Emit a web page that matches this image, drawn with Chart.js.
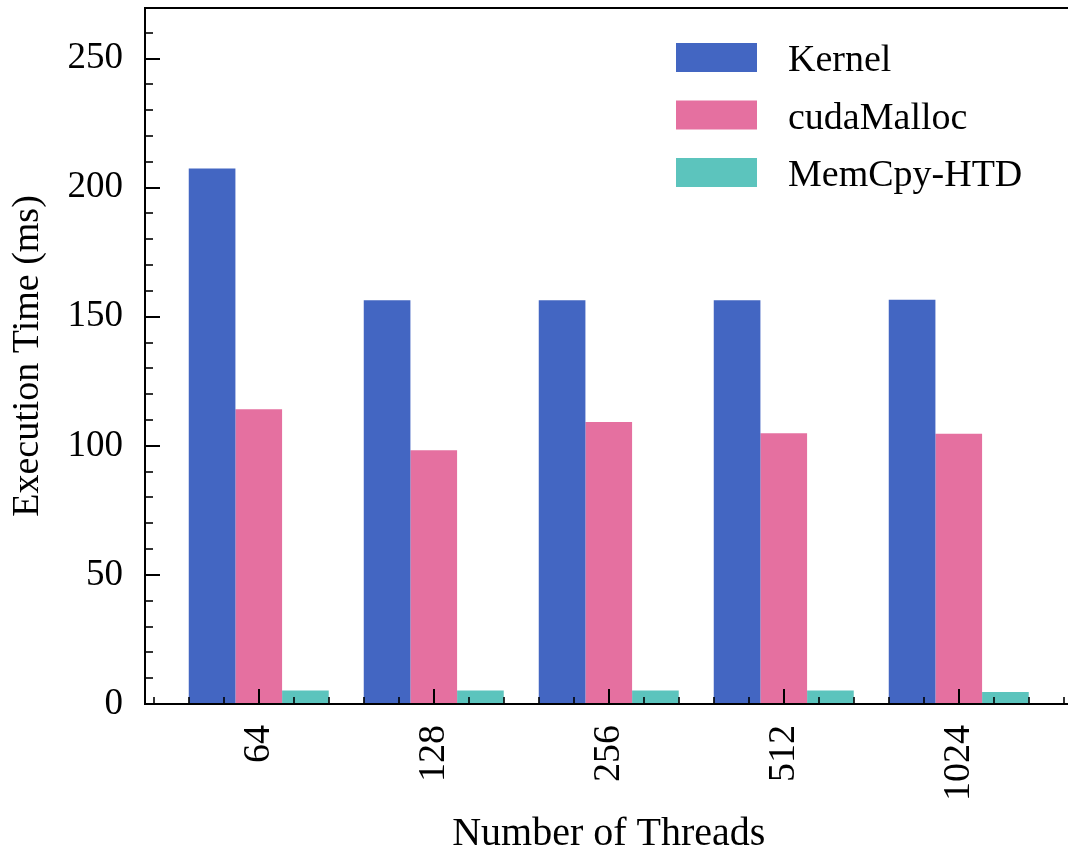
<!DOCTYPE html>
<html>
<head>
<meta charset="utf-8">
<script src="https://cdn.jsdelivr.net/npm/chart.js@4.4.0/dist/chart.umd.min.js"></script>
<style>
  html, body { margin: 0; padding: 0; background: #fff; overflow: hidden; }
</style>
</head>
<body>
<canvas id="chart" width="1074" height="854"></canvas>
<script>
// values
const threads = ['64', '128', '256', '512', '1024'];
const kernel = [207.4, 156.4, 156.4, 156.4, 156.6];
const cudaMalloc = [114.2, 98.3, 109.2, 104.9, 104.7];
const memcpyHtd = [5.2, 5.2, 5.2, 5.2, 4.6];
const yTicks = [0, 50, 100, 150, 200, 250];
const yMax = 269.6;
const xMin = -0.65;
const xMax = 4.65;

const FONT = "'Liberation Serif', 'DejaVu Serif', serif";
const toPoints = arr => arr.map((v, i) => ({ x: i, y: v }));
const noPadding = s => { s.paddingTop = 0; s.paddingBottom = 0; s.paddingLeft = 0; s.paddingRight = 0; };

// matplotlib-style frame with inward ticks
const frameTicks = {
  id: 'frameTicks',
  afterDatasetsDraw(chart) {
    const { ctx, chartArea: a, scales: { x, y } } = chart;
    ctx.save();
    ctx.strokeStyle = '#000';
    for (let v = 0; v <= yMax; v += 10) {
      const major = v % 50 === 0;
      const py = Math.round(y.getPixelForValue(v));
      ctx.lineWidth = major ? 2 : 1.6;
      ctx.beginPath();
      ctx.moveTo(a.left, py);
      ctx.lineTo(a.left + (major ? 15 : 8), py);
      ctx.stroke();
    }
    for (let i = -3; i <= 23; i++) {
      const major = i % 5 === 0 && i >= 0 && i <= 20;
      const px = Math.round(x.getPixelForValue(i / 5));
      ctx.lineWidth = major ? 2 : 1.6;
      ctx.beginPath();
      ctx.moveTo(px, a.bottom);
      ctx.lineTo(px, a.bottom - (major ? 15 : 7));
      ctx.stroke();
    }
    ctx.lineWidth = 2;
    ctx.strokeRect(a.left, a.top, a.right - a.left, a.bottom - a.top);
    ctx.restore();
  }
};

// legend boxes in the upper right of the plot
const boxLegend = {
  id: 'boxLegend',
  afterDraw(chart) {
    const { ctx } = chart;
    ctx.save();
    ctx.font = '38px ' + FONT;
    ctx.textBaseline = 'alphabetic';
    chart.data.datasets.forEach((ds, i) => {
      const top = 43 + i * 57.5;
      ctx.fillStyle = ds.backgroundColor;
      ctx.fillRect(676, top, 81, 29);
      ctx.fillStyle = '#000';
      ctx.fillText(ds.label, 788, top + 28);
    });
    ctx.restore();
  }
};

new Chart(document.getElementById('chart'), {
  type: 'bar',
  data: {
    datasets: [
      { label: 'Kernel', data: toPoints(kernel), backgroundColor: '#4366c2' },
      { label: 'cudaMalloc', data: toPoints(cudaMalloc), backgroundColor: '#e570a0' },
      { label: 'MemCpy-HTD', data: toPoints(memcpyHtd), backgroundColor: '#5cc4bd' }
    ]
  },
  options: {
    responsive: false,
    animation: false,
    layout: { padding: { top: 8, right: 1.5, left: 0, bottom: 0 } },
    datasets: { bar: { categoryPercentage: 0.8, barPercentage: 1.0, borderWidth: 0 } },
    plugins: { legend: { display: false }, tooltip: { enabled: false } },
    scales: {
      x: {
        type: 'linear',
        min: xMin,
        max: xMax,
        offset: false,
        grid: { display: false, drawTicks: false },
        border: { display: false },
        afterBuildTicks: s => { s.ticks = threads.map((_, i) => ({ value: i })); },
        afterFit: s => { s.height = 150; noPadding(s); },
        ticks: {
          minRotation: 90,
          maxRotation: 90,
          autoSkip: false,
          padding: 21,
          color: '#000',
          font: { family: FONT, size: 38 },
          callback: v => threads[v] ?? ''
        },
        title: {
          display: true,
          text: 'Number of Threads',
          color: '#000',
          font: { family: FONT, size: 40, lineHeight: 1 },
          padding: { top: 0, bottom: 0 }
        }
      },
      y: {
        min: 0,
        max: yMax,
        grid: { display: false, drawTicks: false },
        border: { display: false },
        afterBuildTicks: s => { s.ticks = yTicks.map(v => ({ value: v })); },
        afterFit: s => { s.width = 145; noPadding(s); },
        ticks: {
          padding: 22,
          color: '#000',
          font: { family: FONT, size: 37 }
        },
        title: {
          display: true,
          text: 'Execution Time (ms)',
          color: '#000',
          font: { family: FONT, size: 38, lineHeight: 1 },
          padding: { top: 9, bottom: 0 }
        }
      }
    }
  },
  plugins: [frameTicks, boxLegend]
});
</script>
</body>
</html>
